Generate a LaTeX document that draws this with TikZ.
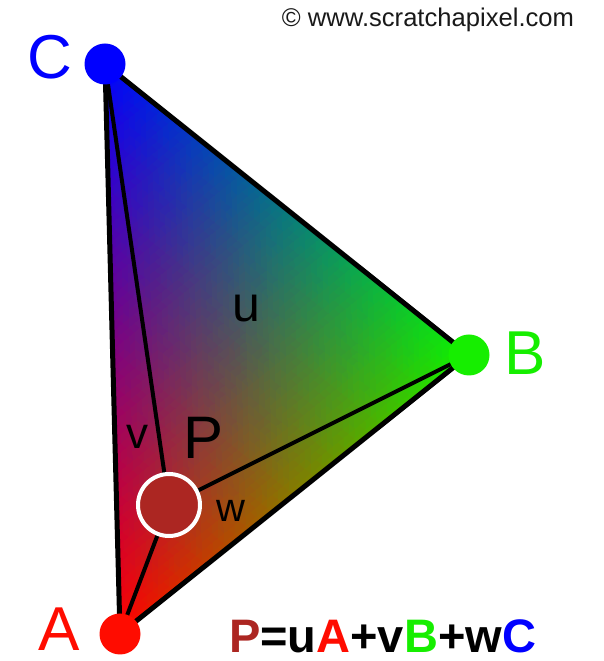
\documentclass[tikz,border=0pt]{standalone}
\usepackage{fontspec}
\setmainfont{Liberation Sans}
\usepackage{pgfplots}
\pgfplotsset{compat=1.18}
\definecolor{Ared}{RGB}{255,12,0}
\definecolor{Bgreen}{RGB}{22,238,0}
\definecolor{Cblue}{RGB}{0,0,255}
\definecolor{Pred}{RGB}{172,38,34}
\definecolor{copy}{RGB}{25,25,25}
\tikzset{
  edge/.style={line width=5pt, line join=round, black},
  spoke/.style={line width=4pt, black},
  vdot/.style={circle, minimum size=41pt, inner sep=0pt},
  vlabel/.style={inner sep=0pt, font=\fontsize{62}{62}\selectfont},
  plabel/.style={inner sep=0pt, font=\fontsize{60}{60}\selectfont},
  wlabel/.style={inner sep=0pt, font=\fontsize{44}{44}\selectfont},
}
\begin{document}
\begin{tikzpicture}[x=1pt,y=1pt]
\useasboundingbox (0,0) rectangle (603,661);
\coordinate (A) at (120,27);
\coordinate (B) at (469,306);
\coordinate (C) at (105,597);
\coordinate (P) at (169,156);
\begin{axis}[x=1pt,y=1pt,anchor=south west,at={(0,0)},hide axis,
  xmin=0,xmax=603,ymin=0,ymax=661,disabledatascaling,clip=false]
\addplot[patch, shader=interp, mesh/color input=explicit, patch type=triangle]
  table[meta=c, row sep=\\] {
  x y c\\
  120 27 rgb=1,0,0\\
  469 306 rgb=0.05,0.95,0\\
  105 597 rgb=0,0,1\\
  };
\end{axis}
\draw[spoke] (P) -- (A);
\draw[spoke] (P) -- (B);
\draw[spoke] (P) -- (C);
\draw[edge] (A) -- (B) -- (C) -- cycle;
\node[vdot, fill=Ared] (Adot) at (A) {};
\node[vdot, fill=Bgreen] (Bdot) at (B) {};
\node[vdot, fill=Cblue] (Cdot) at (C) {};
\node[circle, minimum size=62pt, inner sep=0pt, fill=Pred, draw=white, line width=4pt] (Pdot) at (P) {};
\node[vlabel, text=Ared, anchor=base] (Alab) at (59,10) {A};
\node[vlabel, text=Bgreen] (Blab) at (525.5,307.5) {B};
\node[vlabel, text=Cblue] (Clab) at (49.5,603.5) {C};
\node[plabel] (Plab) at (204,223) {P};
\node[wlabel, font=\fontsize{50}{50}\selectfont] (u) at (246,352) {u};
\node[wlabel] (v) at (137,224) {v};
\node[wlabel, font=\fontsize{40}{40}\selectfont] (w) at (231,150) {w};
\node[inner sep=0pt, anchor=base, font=\fontsize{47}{47}\selectfont\bfseries] (eq) at (382.5,9)
  {\textcolor{Pred}{P}=u\textcolor{Ared}{A}+v\textcolor{Bgreen}{B}+w\textcolor{Cblue}{C}};
\node[inner sep=0pt, text=copy, font=\fontsize{25.6}{26}\selectfont] (cr) at (428,641) {© www.scratchapixel.com};
\end{tikzpicture}
\end{document}
